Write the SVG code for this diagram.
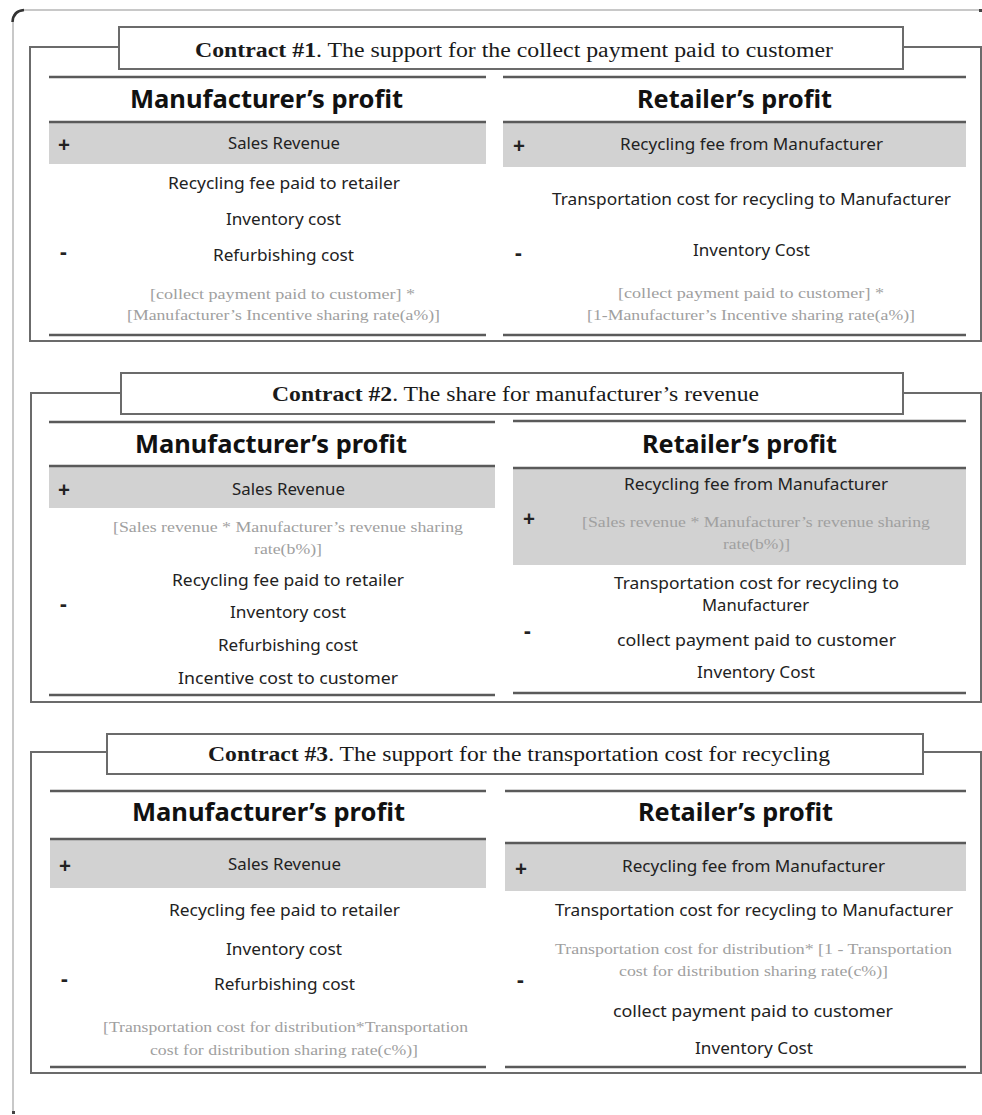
<svg xmlns="http://www.w3.org/2000/svg" width="982" height="1115" viewBox="0 0 982 1115">
<style>
.frame{fill:none;stroke:#6b6b6b;stroke-width:2}
.tbox{fill:#fff;stroke:#6b6b6b;stroke-width:2}
.rule{stroke:#5a5a5a;stroke-width:2.5}
.band{fill:#d2d2d2}
.ttl{font-family:"Liberation Serif",serif;font-size:20.5px;fill:#1a1a1a}
.b{font-weight:bold}
.hd{font-family:"Noto Sans","Open Sans",sans-serif;font-size:25px;font-weight:bold;fill:#111}
.tx{font-family:"Noto Sans","Open Sans",sans-serif;font-size:15.5px;fill:#222}
.gr{font-family:"Liberation Serif",serif;font-size:15px;fill:#a0a0a0}
.sg{font-family:"Noto Sans","Open Sans",sans-serif;font-size:21px;font-weight:bold;fill:#222}
</style>
<rect width="982" height="1115" fill="#fff"/>
<g id="outer">
<path d="M13,1113 L13,22 Q13,10 25,10 L981,10" fill="none" stroke="#c8c8c8" stroke-width="2"/>
<path d="M12.5,22 Q13,11 24,10" fill="none" stroke="#333" stroke-width="2.5"/>
<rect x="979" y="9" width="3" height="3" fill="#444"/>
<rect x="12" y="1111" width="3" height="3" fill="#444"/>
</g>

<!-- Contract 1 -->
<g id="contract1">
<path class="frame" d="M119,47 L30,47 L30,341 L981,341 L981,47 L903,47"/>
<rect class="tbox" x="119" y="27" width="784" height="42"/>
<text class="ttl" x="195" y="57" textLength="638" lengthAdjust="spacingAndGlyphs"><tspan class="b">Contract  #1</tspan>. The support for the collect payment paid to customer</text>
<g id="c1-manufacturer">
<line class="rule" x1="49" y1="77" x2="486" y2="77"/>
<text class="hd" x="130" y="108" textLength="273" lengthAdjust="spacingAndGlyphs">Manufacturer’s profit</text>
<rect class="band" x="49" y="122" width="437" height="42"/>
<line class="rule" x1="49" y1="122" x2="486" y2="122"/>
<text class="sg" x="58" y="152">+</text>
<text class="tx" x="228" y="149" textLength="112" lengthAdjust="spacingAndGlyphs">Sales Revenue</text>
<text class="tx" x="168" y="189" textLength="232" lengthAdjust="spacingAndGlyphs">Recycling fee paid to retailer</text>
<text class="tx" x="226" y="225" textLength="115" lengthAdjust="spacingAndGlyphs">Inventory cost</text>
<text class="sg" x="60" y="259">-</text>
<text class="tx" x="213" y="261" textLength="141" lengthAdjust="spacingAndGlyphs">Refurbishing cost</text>
<text class="gr" x="150" y="299" textLength="265" lengthAdjust="spacingAndGlyphs">[collect payment paid  to customer] *</text>
<text class="gr" x="127" y="320" textLength="313" lengthAdjust="spacingAndGlyphs">[Manufacturer’s Incentive sharing rate(a%)]</text>
<line class="rule" x1="49" y1="335" x2="486" y2="335"/>
</g>
<g id="c1-retailer">
<line class="rule" x1="503" y1="77" x2="966" y2="77"/>
<text class="hd" x="637" y="108" textLength="195" lengthAdjust="spacingAndGlyphs">Retailer’s profit</text>
<rect class="band" x="503" y="122" width="463" height="45"/>
<line class="rule" x1="503" y1="122" x2="966" y2="122"/>
<text class="sg" x="513" y="153">+</text>
<text class="tx" x="620" y="150" textLength="263" lengthAdjust="spacingAndGlyphs">Recycling fee from Manufacturer</text>
<text class="tx" x="552" y="205" textLength="399" lengthAdjust="spacingAndGlyphs">Transportation cost for recycling to Manufacturer</text>
<text class="sg" x="515" y="260">-</text>
<text class="tx" x="693" y="256" textLength="117" lengthAdjust="spacingAndGlyphs">Inventory Cost</text>
<text class="gr" x="618" y="298" textLength="266" lengthAdjust="spacingAndGlyphs">[collect payment paid  to customer] *</text>
<text class="gr" x="587" y="320" textLength="328" lengthAdjust="spacingAndGlyphs">[1-Manufacturer’s Incentive sharing rate(a%)]</text>
<line class="rule" x1="503" y1="335" x2="966" y2="335"/>
</g>
</g>

<!-- Contract 2 -->
<g id="contract2">
<path class="frame" d="M121,393 L31,393 L31,702 L981,702 L981,393 L903,393"/>
<rect class="tbox" x="121" y="373" width="782" height="41"/>
<text class="ttl" x="272" y="401" textLength="487" lengthAdjust="spacingAndGlyphs"><tspan class="b">Contract #2</tspan>. The share for manufacturer’s revenue</text>
<g id="c2-manufacturer">
<line class="rule" x1="49" y1="422" x2="495" y2="422"/>
<text class="hd" x="135" y="453" textLength="272" lengthAdjust="spacingAndGlyphs">Manufacturer’s profit</text>
<rect class="band" x="49" y="466" width="446" height="42"/>
<line class="rule" x1="49" y1="466" x2="495" y2="466"/>
<text class="sg" x="58" y="497">+</text>
<text class="tx" x="232" y="495" textLength="113" lengthAdjust="spacingAndGlyphs">Sales Revenue</text>
<text class="gr" x="113" y="532" textLength="350" lengthAdjust="spacingAndGlyphs">[Sales revenue * Manufacturer’s revenue sharing</text>
<text class="gr" x="254" y="554" textLength="68" lengthAdjust="spacingAndGlyphs">rate(b%)]</text>
<text class="tx" x="172" y="586" textLength="232" lengthAdjust="spacingAndGlyphs">Recycling fee paid to retailer</text>
<text class="sg" x="60" y="611">-</text>
<text class="tx" x="230" y="618" textLength="116" lengthAdjust="spacingAndGlyphs">Inventory cost</text>
<text class="tx" x="218" y="651" textLength="140" lengthAdjust="spacingAndGlyphs">Refurbishing cost</text>
<text class="tx" x="178" y="684" textLength="220" lengthAdjust="spacingAndGlyphs">Incentive cost  to customer</text>
<line class="rule" x1="49" y1="695" x2="495" y2="695"/>
</g>
<g id="c2-retailer">
<line class="rule" x1="513" y1="421" x2="966" y2="421"/>
<text class="hd" x="642" y="453" textLength="195" lengthAdjust="spacingAndGlyphs">Retailer’s profit</text>
<rect class="band" x="513" y="468" width="453" height="97"/>
<line class="rule" x1="513" y1="468" x2="966" y2="468"/>
<text class="sg" x="523" y="526">+</text>
<text class="tx" x="624" y="490" textLength="264" lengthAdjust="spacingAndGlyphs">Recycling fee from Manufacturer</text>
<text class="gr" x="582" y="527" textLength="348" lengthAdjust="spacingAndGlyphs">[Sales revenue * Manufacturer’s revenue sharing</text>
<text class="gr" x="723" y="549" textLength="67" lengthAdjust="spacingAndGlyphs">rate(b%)]</text>
<text class="tx" x="614" y="589" textLength="285" lengthAdjust="spacingAndGlyphs">Transportation cost for recycling to</text>
<text class="tx" x="702" y="611" textLength="107" lengthAdjust="spacingAndGlyphs">Manufacturer</text>
<text class="sg" x="524" y="638">-</text>
<text class="tx" x="617" y="646" textLength="279" lengthAdjust="spacingAndGlyphs">collect payment paid  to customer</text>
<text class="tx" x="697" y="678" textLength="118" lengthAdjust="spacingAndGlyphs">Inventory Cost</text>
<line class="rule" x1="513" y1="693" x2="966" y2="693"/>
</g>
</g>

<!-- Contract 3 -->
<g id="contract3">
<path class="frame" d="M107,752 L31,752 L31,1073 L981,1073 L981,752 L923,752"/>
<rect class="tbox" x="107" y="734" width="816" height="40"/>
<text class="ttl" x="208" y="761" textLength="622" lengthAdjust="spacingAndGlyphs"><tspan class="b">Contract #3</tspan>. The support for the transportation cost for recycling</text>
<g id="c3-manufacturer">
<line class="rule" x1="50" y1="791" x2="486" y2="791"/>
<text class="hd" x="132" y="821" textLength="273" lengthAdjust="spacingAndGlyphs">Manufacturer’s profit</text>
<rect class="band" x="50" y="839" width="436" height="49"/>
<line class="rule" x1="50" y1="839" x2="486" y2="839"/>
<text class="sg" x="59" y="873">+</text>
<text class="tx" x="228" y="870" textLength="113" lengthAdjust="spacingAndGlyphs">Sales Revenue</text>
<text class="tx" x="169" y="916" textLength="231" lengthAdjust="spacingAndGlyphs">Recycling fee paid to retailer</text>
<text class="tx" x="226" y="955" textLength="116" lengthAdjust="spacingAndGlyphs">Inventory cost</text>
<text class="sg" x="61" y="986">-</text>
<text class="tx" x="214" y="990" textLength="141" lengthAdjust="spacingAndGlyphs">Refurbishing cost</text>
<text class="gr" x="103" y="1032" textLength="365" lengthAdjust="spacingAndGlyphs">[Transportation cost for distribution*Transportation</text>
<text class="gr" x="150" y="1055" textLength="268" lengthAdjust="spacingAndGlyphs">cost for distribution sharing rate(c%)]</text>
<line class="rule" x1="50" y1="1067" x2="486" y2="1067"/>
</g>
<g id="c3-retailer">
<line class="rule" x1="505" y1="791" x2="966" y2="791"/>
<text class="hd" x="638" y="821" textLength="195" lengthAdjust="spacingAndGlyphs">Retailer’s profit</text>
<rect class="band" x="505" y="843" width="461" height="48"/>
<line class="rule" x1="505" y1="843" x2="966" y2="843"/>
<text class="sg" x="515" y="876">+</text>
<text class="tx" x="622" y="872" textLength="263" lengthAdjust="spacingAndGlyphs">Recycling fee from Manufacturer</text>
<text class="tx" x="555" y="916" textLength="398" lengthAdjust="spacingAndGlyphs">Transportation cost for recycling to Manufacturer</text>
<text class="gr" x="555" y="954" textLength="397" lengthAdjust="spacingAndGlyphs">Transportation cost for distribution* [1 - Transportation</text>
<text class="gr" x="619" y="976" textLength="269" lengthAdjust="spacingAndGlyphs">cost for distribution sharing rate(c%)]</text>
<text class="sg" x="517" y="987">-</text>
<text class="tx" x="613" y="1017" textLength="280" lengthAdjust="spacingAndGlyphs">collect payment paid  to customer</text>
<text class="tx" x="695" y="1054" textLength="118" lengthAdjust="spacingAndGlyphs">Inventory Cost</text>
<line class="rule" x1="505" y1="1067" x2="966" y2="1067"/>
</g>
</g>
</svg>
